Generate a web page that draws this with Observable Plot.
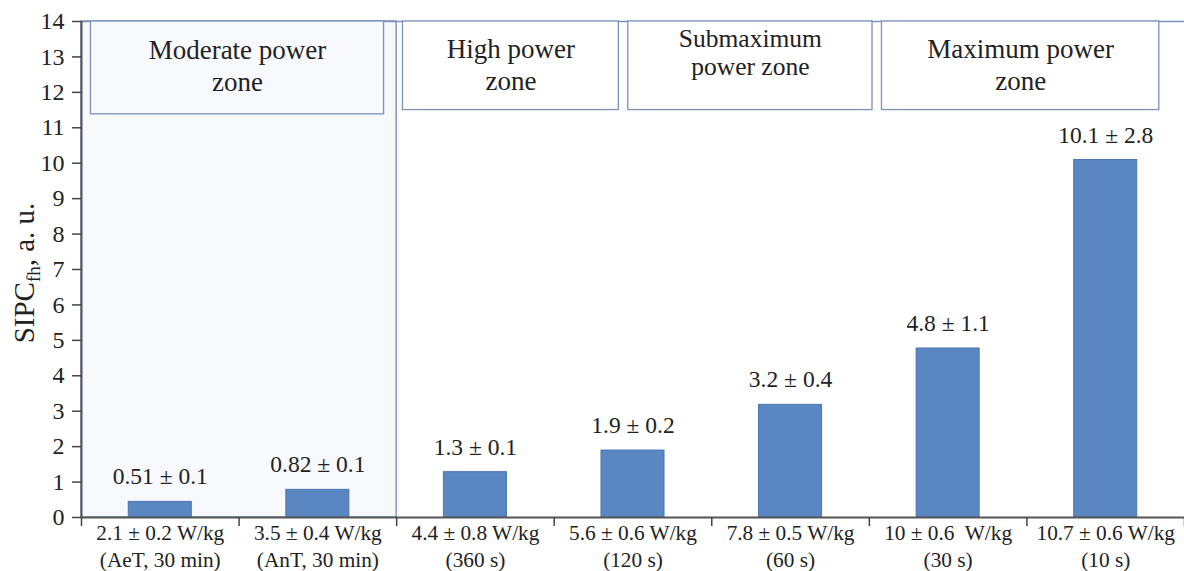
<!DOCTYPE html>
<html><head><meta charset="utf-8">
<script src="https://cdn.jsdelivr.net/npm/d3@7"></script>
<script src="https://cdn.jsdelivr.net/npm/@observablehq/plot@0.6"></script>
<style>body{margin:0;background:#fff} svg{display:block}
svg text{font-family:"Liberation Serif","Times New Roman",Tinos,"DejaVu Serif",serif !important}</style>
</head><body><div id="chart"></div>
<script>
const categories = [
  "2.1 ± 0.2 W/kg\n(AeT, 30 min)",
  "3.5 ± 0.4 W/kg\n(AnT, 30 min)",
  "4.4 ± 0.8 W/kg\n(360 s)",
  "5.6 ± 0.6 W/kg\n(120 s)",
  "7.8 ± 0.5 W/kg\n(60 s)",
  "10 ± 0.6  W/kg\n(30 s)",
  "10.7 ± 0.6 W/kg\n(10 s)"
];
const values = [0.44, 0.78, 1.28, 1.89, 3.18, 4.77, 10.09];
const valueLabels = ["0.51 ± 0.1", "0.82 ± 0.1", "1.3 ± 0.1", "1.9 ± 0.2", "3.2 ± 0.4", "4.8 ± 1.1", "10.1 ± 2.8"];
const zoneLabels = ["Moderate power\nzone", "High power\nzone", "Submaximum\npower zone", "Maximum power\nzone"];
const zoneStart = [0.06, 2.04, 3.47, 5.08];
const zoneEnd = [1.92, 3.41, 5.02, 6.84];
const zoneBottom = [11.38, 11.5, 11.5, 11.5];
const zoneTextY = [12.78, 12.8, 13.13, 12.8];
const moderateCount = 2;
const yTicks = d3.range(0, 15);
const yMax = 14;

const bars = values.map((v, i) => ({i, value: v, label: valueLabels[i], cat: categories[i]}));
const zones = zoneLabels.map((z, i) => ({label: z, x1: zoneStart[i], x2: zoneEnd[i], y1: zoneBottom[i], y2: yMax, ty: zoneTextY[i]}));
const panel = [{x1: 0, x2: moderateCount, y1: 0, y2: yMax}];
const n = categories.length;

const boxStroke = "#7b92bb";

const chart = Plot.plot({
  width: 1184, height: 571,
  marginLeft: 81, marginRight: 0, marginTop: 21, marginBottom: 54,
  style: {color: "#222", background: "#fff", overflow: "visible"},
  x: {domain: [0, n], axis: null},
  y: {domain: [0, yMax], axis: null},
  marks: [
    Plot.rect(panel, {x1: "x1", x2: "x2", y1: "y1", y2: "y2", fill: "#f7f9fc", stroke: "#6d86b4", strokeWidth: 1.3}),
    Plot.ruleY([yMax], {x1: 0, x2: n, stroke: boxStroke, strokeWidth: 1.3}),
    Plot.rect(zones, {x1: "x1", x2: "x2", y1: "y1", y2: "y2", fill: (d, i) => i === 0 ? "#f8f9fc" : "#fff", stroke: boxStroke, strokeWidth: 1.3}),
    Plot.text(zones.filter((d, i) => i !== 2), {x: d => (d.x1 + d.x2) / 2, y: "ty", text: "label", fontSize: 27, lineHeight: 1.18, fill: "#222"}),
    Plot.text(zones.filter((d, i) => i === 2), {x: d => (d.x1 + d.x2) / 2, y: "ty", text: "label", fontSize: 25.5, lineHeight: 1.1, fill: "#222"}),
    Plot.rectY(bars, {x1: d => d.i + 0.3, x2: d => d.i + 0.7, y: "value", fill: "#5a86c1", stroke: "#4a75b1", strokeWidth: 1}),
    Plot.text(bars, {x: d => d.i + 0.5, y: "value", text: "label", dy: -25, fontSize: 23.5, fill: "#222"}),
    Plot.ruleY([0], {x1: 0, x2: n, stroke: "#555", strokeWidth: 2}),
    Plot.ruleX([0], {y1: 0, y2: yMax, stroke: "#555", strokeWidth: 2}),
    Plot.axisY({ticks: yTicks, tickSize: 9, tickPadding: 8, fontSize: 24, label: null, stroke: "#444", strokeWidth: 1.5}),
    Plot.axisX({ticks: d3.range(0, n + 1), tickSize: 9, tickFormat: () => "", label: null, stroke: "#444", strokeWidth: 1.5}),
    Plot.axisX({ticks: d3.range(0, n).map(i => i + 0.5), tickSize: 0, tickPadding: 3, tickFormat: t => categories[Math.floor(t)], fontSize: 21.3, lineHeight: 1.27, label: null})
  ]
});
document.getElementById("chart").append(chart);

const svg = d3.select(chart.tagName.toLowerCase() === "svg" ? chart : chart.querySelector("svg"));
const title = svg.append("text")
  .attr("transform", "translate(34,273) rotate(-90)")
  .attr("text-anchor", "middle")
  .attr("font-size", 29)
  .attr("fill", "#222");
title.append("tspan").text("SIPC");
title.append("tspan").attr("font-size", 19).attr("dy", 6).text("fh");
title.append("tspan").attr("dy", -6).text(", a. u.");
</script>
</body></html>
